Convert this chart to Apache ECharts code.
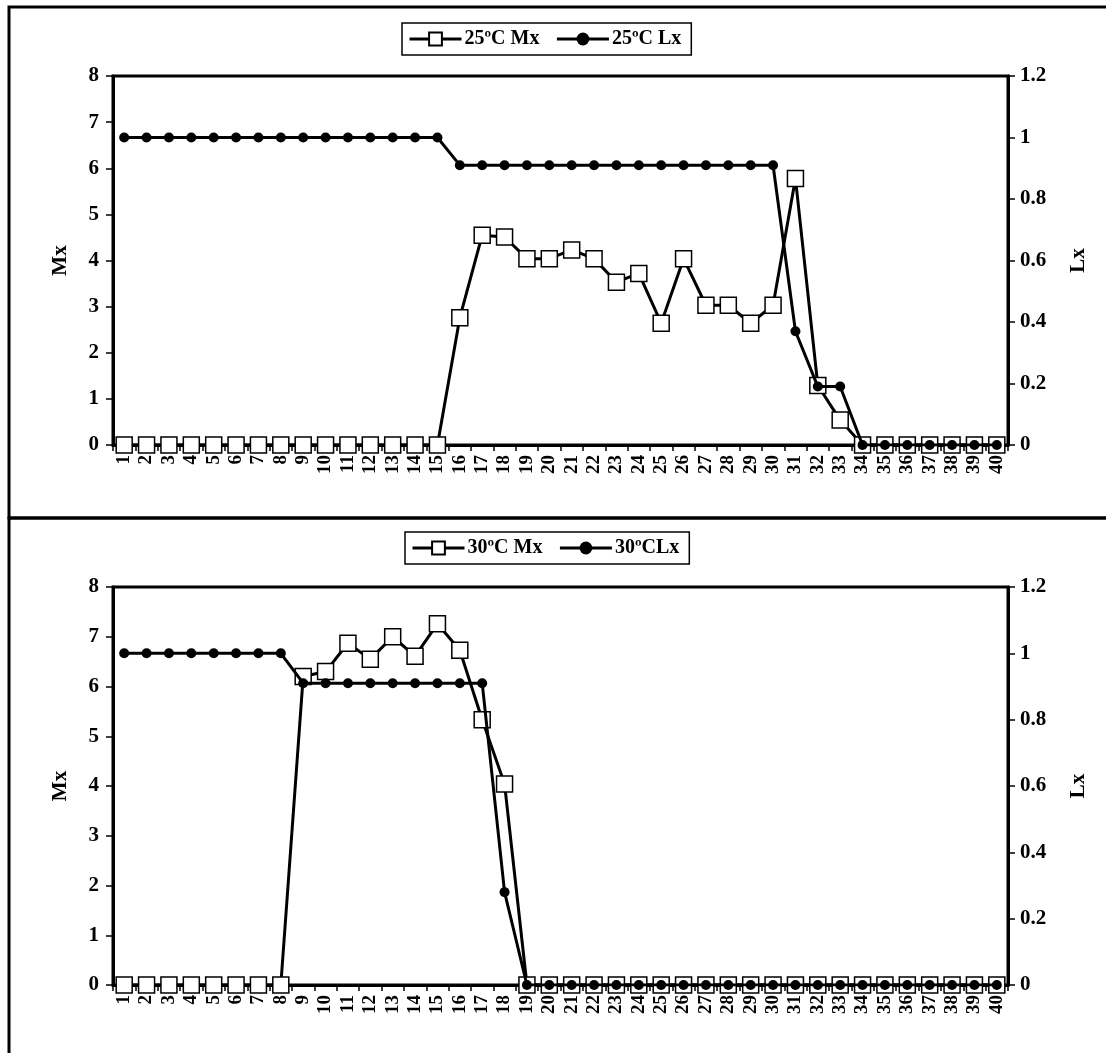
<!DOCTYPE html>
<html>
<head>
<meta charset="utf-8">
<script src="https://cdn.jsdelivr.net/npm/echarts@6/dist/echarts.min.js"></script>
<style>
html,body{margin:0;padding:0;background:#fff;}
#chart{width:1106px;height:1053px;}
</style>
</head>
<body>
<div id="chart"></div>
<script>
const categories = ['1','2','3','4','5','6','7','8','9','10','11','12','13','14','15','16','17','18','19','20',
  '21','22','23','24','25','26','27','28','29','30','31','32','33','34','35','36','37','38','39','40'];
const mxTicks = [0, 1, 2, 3, 4, 5, 6, 7, 8];
const lxTicks = [0, 0.2, 0.4, 0.6, 0.8, 1, 1.2];

const mx25 = [0,0,0,0,0,0,0,0,0,0,0,0,0,0,0,
  2.76,4.55,4.51,4.04,4.04,4.23,4.04,3.53,3.72,2.64,4.04,3.03,3.03,2.64,3.03,5.78,1.29,0.54,
  0,0,0,0,0,0,0];
const lx25 = [1,1,1,1,1,1,1,1,1,1,1,1,1,1,1,
  0.91,0.91,0.91,0.91,0.91,0.91,0.91,0.91,0.91,0.91,0.91,0.91,0.91,0.91,0.91,
  0.37,0.19,0.19,
  0,0,0,0,0,0,0];
const mx30 = [0,0,0,0,0,0,0,0,
  6.20,6.30,6.87,6.55,7.00,6.61,7.26,6.73,5.33,4.04,
  0,0,0,0,0,0,0,0,0,0,0,0,0,0,0,0,0,0,0,0,0,0];
const lx30 = [1,1,1,1,1,1,1,1,
  0.91,0.91,0.91,0.91,0.91,0.91,0.91,0.91,0.91,
  0.28,
  0,0,0,0,0,0,0,0,0,0,0,0,0,0,0,0,0,0,0,0,0,0];

const names = ['25ºC Mx', '25ºC Lx', '30ºC Mx', '30ºCLx'];

const FONT = '"Liberation Serif", "Times New Roman", serif';
const txt = (size) => ({fontFamily: FONT, fontWeight: 'bold', fontSize: size, color: '#000'});

function xAxis(gi) {
  return {
    type: 'category', gridIndex: gi, data: categories, boundaryGap: true,
    axisLine: {lineStyle: {color: '#000', width: 3}},
    axisTick: {show: true, length: 6, lineStyle: {color: '#000', width: 1.5}},
    axisLabel: Object.assign({interval: 0, rotate: 90, margin: 10}, txt(19)),
    splitLine: {show: false}
  };
}
function yLeft(gi) {
  return {
    type: 'value', gridIndex: gi, position: 'left', min: mxTicks[0], max: mxTicks[mxTicks.length-1], interval: 1,
    name: 'Mx', nameLocation: 'middle', nameGap: 42, nameRotate: 90, nameTextStyle: txt(21),
    axisLine: {show: true, lineStyle: {color: '#000', width: 3}},
    axisTick: {show: true, length: 7, lineStyle: {color: '#000', width: 1.5}},
    axisLabel: Object.assign({margin: 14}, txt(21)),
    splitLine: {show: false}
  };
}
function yRight(gi) {
  return {
    type: 'value', gridIndex: gi, position: 'right', min: lxTicks[0], max: lxTicks[lxTicks.length-1], interval: 0.2,
    name: 'Lx', nameLocation: 'middle', nameGap: 60, nameRotate: 90, nameTextStyle: txt(21),
    axisLine: {show: true, lineStyle: {color: '#000', width: 3}},
    axisTick: {show: true, length: 7, lineStyle: {color: '#000', width: 1.5}},
    axisLabel: Object.assign({margin: 12}, txt(21)),
    splitLine: {show: false}
  };
}
function mxSeries(name, data, xi, yi) {
  return {
    name: name, type: 'line', data: data, xAxisIndex: xi, yAxisIndex: yi,
    symbol: 'rect', symbolSize: 16, showAllSymbol: true,
    lineStyle: {color: '#000', width: 3},
    itemStyle: {color: '#fff', borderColor: '#000', borderWidth: 1.5},
    animation: false, z: 2
  };
}
function lxSeries(name, data, xi, yi) {
  return {
    name: name, type: 'line', data: data, xAxisIndex: xi, yAxisIndex: yi,
    symbol: 'circle', symbolSize: 10, showAllSymbol: true,
    lineStyle: {color: '#000', width: 3},
    itemStyle: {color: '#000', borderColor: '#000', borderWidth: 0},
    animation: false, z: 3
  };
}
function legend(data, left, top) {
  return {
    data: data, left: left, top: top, orient: 'horizontal',
    backgroundColor: '#fff', borderColor: '#000', borderWidth: 1.5,
    padding: [6, 10, 6, 6], itemWidth: 52, itemHeight: 16, itemGap: 16,
    lineStyle: {width: 3, color: '#000'},
    textStyle: Object.assign(txt(20), {padding: [0, 0, 0, -2]})
  };
}

const chart = echarts.init(document.getElementById('chart'), null, {renderer: 'canvas'});
chart.setOption({
  backgroundColor: '#fff',
  animation: false,
  graphic: [
    {type: 'rect', shape: {x: 9, y: 7, width: 1200, height: 511}, style: {fill: 'none', stroke: '#000', lineWidth: 3}, silent: true},
    {type: 'rect', shape: {x: 9, y: 518, width: 1200, height: 600}, style: {fill: 'none', stroke: '#000', lineWidth: 3}, silent: true}
  ],
  legend: [
    legend([names[0], names[1]], 402, 23),
    legend([names[2], names[3]], 405, 532)
  ],
  grid: [
    {left: 113, top: 76, width: 895, height: 369, show: true, borderColor: '#000', borderWidth: 3, backgroundColor: 'transparent'},
    {left: 113, top: 587, width: 895, height: 398, show: true, borderColor: '#000', borderWidth: 3, backgroundColor: 'transparent'}
  ],
  xAxis: [xAxis(0), xAxis(1)],
  yAxis: [yLeft(0), yRight(0), yLeft(1), yRight(1)],
  series: [
    mxSeries(names[0], mx25, 0, 0),
    lxSeries(names[1], lx25, 0, 1),
    mxSeries(names[2], mx30, 1, 2),
    lxSeries(names[3], lx30, 1, 3)
  ]
});
</script>
</body>
</html>
